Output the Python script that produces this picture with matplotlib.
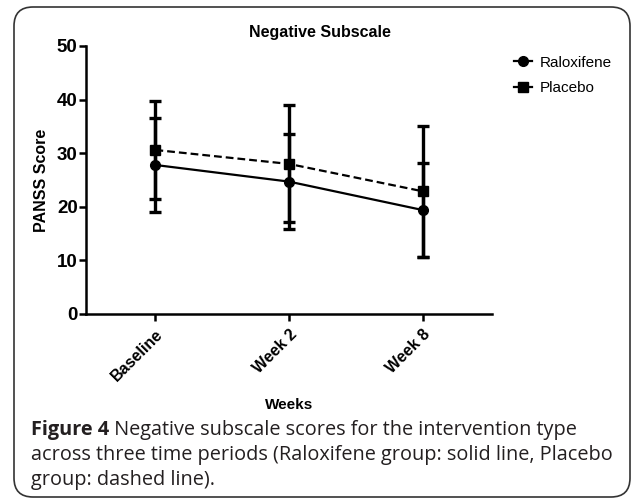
import matplotlib
matplotlib.use("Agg")
import matplotlib.pyplot as plt
from matplotlib.patches import FancyBboxPatch
from matplotlib.lines import Line2D
import numpy as np

categories = ["Baseline", "Week 2", "Week 8"]
raloxifene_mean = [27.8, 24.7, 19.4]
raloxifene_sd = [8.7, 8.8, 8.8]
placebo_mean = [30.6, 28.0, 22.9]
placebo_sd = [9.1, 10.9, 12.2]
yticks = [0, 10, 20, 30, 40, 50]

plt.rcParams['font.family'] = ['Liberation Sans', 'DejaVu Sans']

W, H = 633, 499
fig = plt.figure(figsize=(W / 100, H / 100), dpi=100)
fig.patch.set_facecolor('white')

ax = fig.add_axes([86 / W, 1 - 314 / H, (492 - 86) / W, (314 - 46) / H])
x = np.arange(len(categories))

ax.errorbar(x, raloxifene_mean, yerr=raloxifene_sd, color='black', lw=1.6,
            marker='o', ms=7, elinewidth=2.4, capsize=4, capthick=2.4,
            zorder=3)
ax.errorbar(x, placebo_mean, yerr=placebo_sd, color='black', lw=1.6,
            marker='s', ms=7, elinewidth=2.4, capsize=4, capthick=2.4,
            ls='--', dashes=(3.5, 1.8), zorder=3)

ax.set_xlim(-0.52, 2.52)
ax.set_ylim(0, 50)
ax.set_yticks(yticks)
ax.set_xticks(x)
ax.set_xticklabels(categories, rotation=45, ha='right', rotation_mode='anchor',
                   fontsize=11.5, fontweight='bold')
for lbl in ax.get_yticklabels():
    lbl.set_fontsize(13.5)
    lbl.set_fontweight('bold')
ax.tick_params(axis='both', width=1.8, length=5, direction='out', pad=1)
ax.tick_params(axis='x', pad=4)
for s in ['top', 'right']:
    ax.spines[s].set_visible(False)
for s in ['left', 'bottom']:
    ax.spines[s].set_linewidth(1.8)

ax.set_ylabel('PANSS Score', fontsize=11.5, fontweight='bold', labelpad=6)
ax.set_xlabel('Weeks', fontsize=11, fontweight='bold', labelpad=10)

fig.text(320 / W, 1 - 32 / H, 'Negative Subscale', ha='center', va='center',
         fontsize=11.5, fontweight='bold')

handles = [Line2D([], [], color='black', lw=1.6, marker='o', ms=7),
           Line2D([], [], color='black', lw=1.6, marker='s', ms=7)]
fig.legend(handles, ['Raloxifene', 'Placebo'], loc='upper left',
           bbox_to_anchor=(500 / W, 1 - 42 / H),
           frameon=False, fontsize=11, handlelength=1.2,
           handletextpad=0.5, labelspacing=0.75)

# Caption
cap_font = ['Open Sans', 'DejaVu Sans']
cs = 14.3
col = '#231f20'
x0 = 31 / W
t1 = fig.text(x0, 1 - 435 / H, 'Figure 4', fontsize=cs, fontweight='bold',
              family=cap_font, va='baseline', color=col)
fig.canvas.draw()
r = fig.canvas.get_renderer()
bb = t1.get_window_extent(r)
fig.text(bb.x1 / W, 1 - 435 / H, ' Negative subscale scores for the intervention type',
         fontsize=cs, family=cap_font, va='baseline', color=col)
fig.text(x0, 1 - 460 / H, 'across three time periods (Raloxifene group: solid line, Placebo',
         fontsize=cs, family=cap_font, va='baseline', color=col)
fig.text(x0, 1 - 485 / H, 'group: dashed line).',
         fontsize=cs, family=cap_font, va='baseline', color=col)

box = FancyBboxPatch((14 / W, 2 / H), (630 - 14) / W, (492 - 2) / H,
                     boxstyle='round,pad=0,rounding_size=0.03',
                     transform=fig.transFigure, fill=False, lw=1.2,
                     edgecolor='#333333', mutation_aspect=W / H)
fig.patches.append(box)

fig.savefig('out.png', dpi=100)
